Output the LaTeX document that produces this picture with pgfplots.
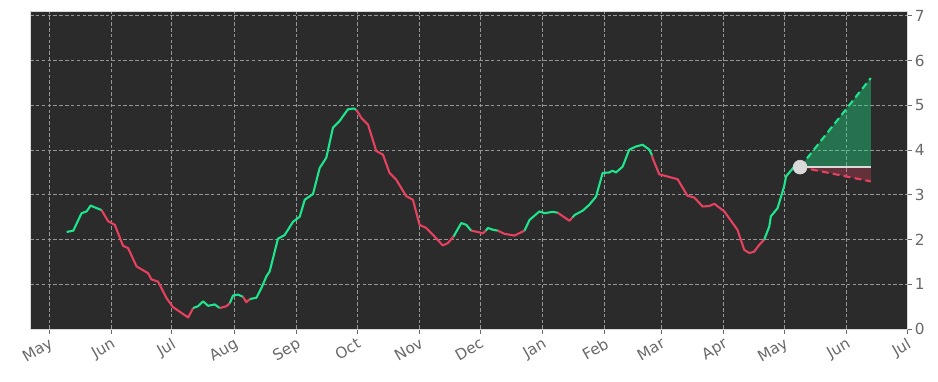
\documentclass[border=0pt]{standalone}
\usepackage{fontspec}
\setmainfont{DejaVu Sans}
\usepackage{pgfplots}
\pgfplotsset{compat=1.18}
\usetikzlibrary{calc}
\definecolor{bg}{RGB}{43,43,43}
\definecolor{upc}{RGB}{30,230,140}
\definecolor{dnc}{RGB}{232,65,95}
\definecolor{gridc}{RGB}{150,150,150}
\definecolor{tickc}{RGB}{105,105,105}
\definecolor{dotc}{RGB}{218,218,218}
\begin{document}
\begin{tikzpicture}
\begin{axis}[
  name=ax,
  scale only axis,
  width=631.4pt, height=229pt,
  xmin=-9.4, xmax=426,
  ymin=0, ymax=7.11,
  axis background/.style={fill=bg},
  axis line style={draw=gray!30, line width=0.5pt},
  xtick={0,31,61,92,123,153,184,214,245,276,304,335,365,396,426},
  xticklabels={May,Jun,Jul,Aug,Sep,Oct,Nov,Dec,Jan,Feb,Mar,Apr,May,Jun,Jul},
  ytick={0,1,2,3,4,5,6,7},
  xtick pos=left, ytick pos=right, yticklabel pos=right,
  tick align=outside,
  major tick length=3.5pt,
  tick style={draw=tickc, line width=0.6pt},
  grid=major,
  major grid style={draw=gridc, dash pattern=on 2.6pt off 1.6pt, line width=0.6pt},
  /pgf/number format/assume math mode=true,
  ticklabel style={font=\fontsize{11}{13}\selectfont, text=tickc},
  xticklabel style={rotate=30, anchor=north east, inner sep=1.5pt},
  yticklabel style={anchor=west, inner sep=2pt},
  clip=false,
]
% green (rising) segments
\addplot[upc, line width=1.5pt, line join=round] coordinates {(8.8,2.17)(12.1,2.20)(16.2,2.59)(18.7,2.63)(20.7,2.76)(22.8,2.72)(26.1,2.66)};
\addplot[dnc, line width=1.5pt, line join=round] coordinates {(26.1,2.66)(29.4,2.41)(32.7,2.33)(36.8,1.86)(39.3,1.81)(43.5,1.40)(49.2,1.25)(50.9,1.11)(54.2,1.06)(58.4,0.69)(61.6,0.49)(69.1,0.26)(71.6,0.47)};
\addplot[upc, line width=1.5pt, line join=round] coordinates {(71.6,0.47)(74.0,0.51)(76.5,0.62)(79.0,0.52)(82.3,0.55)(84.8,0.47)};
\addplot[dnc, line width=1.5pt, line join=round] coordinates {(84.8,0.47)(88.1,0.51)(89.8,0.58)};
\addplot[upc, line width=1.5pt, line join=round] coordinates {(89.8,0.58)(91.4,0.75)(93.9,0.77)(96.4,0.72)};
\addplot[dnc, line width=1.5pt, line join=round] coordinates {(96.4,0.72)(98.0,0.60)(99.7,0.67)};
\addplot[upc, line width=1.5pt, line join=round] coordinates {(99.7,0.67)(103.0,0.70)(105.5,0.92)(108.0,1.18)(109.6,1.29)(113.7,2.02)(117.0,2.10)(121.2,2.40)(124.5,2.51)(127.0,2.89)(131.1,3.02)(134.4,3.60)(137.7,3.83)(141.0,4.50)(144.3,4.65)(148.4,4.91)(151.3,4.93)(152.6,4.90)};
\addplot[dnc, line width=1.5pt, line join=round] coordinates {(152.6,4.90)(155.1,4.72)(158.4,4.57)(162.5,3.98)(165.8,3.90)(169.1,3.49)(172.4,3.34)(177.4,2.97)(180.7,2.89)(184.0,2.33)(187.3,2.26)(191.4,2.07)(195.5,1.87)(198.0,1.92)(200.9,2.07)};
\addplot[upc, line width=1.5pt, line join=round] coordinates {(200.9,2.07)(204.7,2.37)(207.2,2.33)(209.6,2.20)};
\addplot[dnc, line width=1.5pt, line join=round] coordinates {(209.6,2.20)(212.9,2.17)(215.4,2.14)(216.9,2.20)};
\addplot[upc, line width=1.5pt, line join=round] coordinates {(216.9,2.20)(217.9,2.26)(220.4,2.22)(222.8,2.20)};
\addplot[dnc, line width=1.5pt, line join=round] coordinates {(222.8,2.20)(226.1,2.13)(231.1,2.09)(236.1,2.20)};
\addplot[upc, line width=1.5pt, line join=round] coordinates {(236.1,2.20)(238.6,2.44)(243.5,2.63)(246.0,2.59)(250.1,2.62)(252.6,2.60)};
\addplot[dnc, line width=1.5pt, line join=round] coordinates {(252.6,2.60)(258.4,2.42)(260.0,2.50)};
\addplot[upc, line width=1.5pt, line join=round] coordinates {(260.0,2.50)(261.0,2.55)(265.1,2.65)(268.3,2.78)(271.6,2.96)(274.9,3.49)(278.2,3.50)(279.8,3.54)(281.5,3.50)(284.8,3.63)(288.1,4.01)(291.4,4.08)(294.7,4.12)(298.1,4.01)(299.4,3.88)};
\addplot[dnc, line width=1.5pt, line join=round] coordinates {(299.4,3.88)(299.7,3.82)(303.0,3.46)(307.1,3.41)(312.1,3.35)(317.0,2.98)(320.4,2.94)(324.5,2.74)(327.8,2.75)(330.3,2.80)(335.3,2.63)(339.4,2.37)(341.8,2.22)(345.2,1.77)(347.7,1.70)(350.1,1.73)(352.6,1.88)(355.1,2.00)};
\addplot[upc, line width=1.5pt, line join=round] coordinates {(355.1,2.00)(357.6,2.29)(358.4,2.52)(361.7,2.70)(365.0,3.19)(365.9,3.41)(370.0,3.63)(372.9,3.62)};
% forecast cone
\addplot[draw=none, fill=upc, fill opacity=0.38] coordinates {(372.9,3.62)(408,5.61)(408,3.63)};
\addplot[draw=none, fill=dnc, fill opacity=0.30] coordinates {(372.9,3.62)(408,3.63)(408,3.30)};
\addplot[upc, line width=1.5pt, dash pattern=on 5pt off 3pt] coordinates {(372.9,3.62)(408,5.61)};
\addplot[dnc, line width=1.5pt, dash pattern=on 5pt off 3pt] coordinates {(372.9,3.62)(408,3.30)};
\addplot[dotc, line width=1.5pt] coordinates {(372.9,3.63)(408,3.63)};
\addplot[only marks, mark=*, mark size=5pt, mark options={fill=dotc, draw=dotc}] coordinates {(372.9,3.62)};
\end{axis}
\pgfresetboundingbox
\path ($(ax.south west)+(-21.6pt,-37.4pt)$) rectangle ($(ax.north east)+(22.3pt,7.9pt)$);
\end{tikzpicture}
\end{document}
